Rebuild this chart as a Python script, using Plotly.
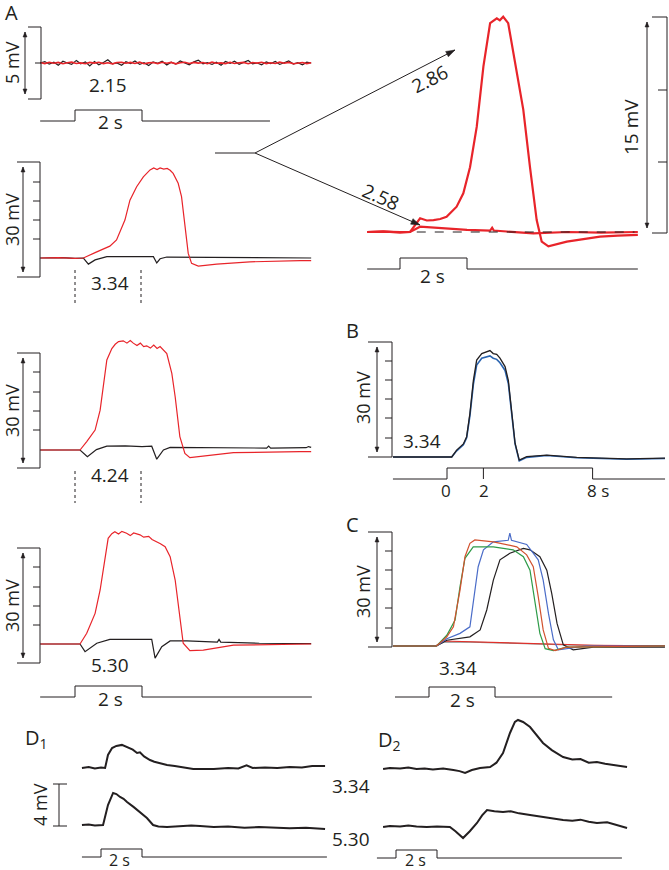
import math

import plotly.graph_objects as go

W, H = 669, 870
INK = "#231f20"
RED = "#e8242a"
FONT = "Open Sans"

# ---------------- data (time in s, voltage in mV) ----------------
# A, 2.15 (sub-threshold, 5 mV scale)
a1_t = [-1.04, -0.9, -0.77, -0.63, -0.5, -0.36, -0.23, -0.1, 0.04, 0.17, 0.31, 0.44, 0.58, 0.71, 0.85, 0.98,
        1.12, 1.25, 1.39, 1.52, 1.66, 1.79, 1.93, 2.06, 2.2, 2.33, 2.47, 2.6, 2.74, 2.87, 3.01, 3.14, 3.28,
        3.41, 3.55, 3.68, 3.82, 3.95, 4.09, 4.22, 4.36, 4.49, 4.63, 4.76, 4.9, 5.03, 5.17, 5.3, 5.44, 5.57,
        5.71, 5.84, 5.98, 6.11, 6.25, 6.38, 6.52, 6.65, 6.79, 6.92, 7.05]
a1_black = [0.0, 0.1, -0.08, 0.05, -0.15, 0.12, 0.0, -0.1, 0.18, -0.05,
            0.08, -0.2, 0.1, -0.12, 0.04, 0.22, -0.06, 0.0, -0.16, 0.09,
            -0.04, 0.14, -0.1, 0.02, -0.18, 0.07, -0.02, 0.12, -0.14, 0.05,
            -0.08, 0.15, 0.0, -0.12, 0.08, 0.2, -0.05, 0.03, -0.1, 0.06,
            -0.15, 0.1, -0.03, 0.13, -0.09, 0.02, 0.17, -0.06, 0.0, -0.13,
            0.08, -0.04, 0.11, -0.1, 0.05, 0.14, -0.07, 0.02, -0.12, 0.06, 0.0]
a1_red = [0.03, -0.04, 0.05, -0.02, 0.04, -0.05, 0.02, 0.06, -0.03, 0.01,
          -0.05, 0.04, -0.01, 0.05, -0.04, 0.02, -0.06, 0.03, 0.05, -0.02,
          0.04, -0.03, 0.06, -0.05, 0.01, 0.03, -0.04, 0.05, -0.02, 0.04,
          -0.06, 0.02, 0.05, -0.03, 0.04, -0.01, 0.03, -0.05, 0.06, -0.02,
          0.01, -0.04, 0.05, -0.03, 0.02, 0.04, -0.05, 0.03, -0.01, 0.05,
          -0.04, 0.02, -0.03, 0.06, -0.02, 0.04, -0.05, 0.01, 0.03, -0.04, 0.02]

# A, 3.34
a2_red_t = [-1.04, -0.5, 0.0, 0.25, 0.65, 1.04, 1.24, 1.49, 1.64, 1.84, 2.04, 2.24, 2.35, 2.45, 2.54, 2.65,
            2.75, 2.84, 2.93, 3.08, 3.18, 3.28, 3.38, 3.48, 3.68, 4.23, 5.22, 6.72, 7.05]
a2_red_v = [0.0, 0.1, -0.1, 0.0, 1.6, 3.1, 4.7, 9.9, 15.1, 18.6, 21.2, 23.0, 23.5, 23.1, 23.5, 23.2,
            23.4, 22.9, 22.1, 19.5, 16.0, 8.2, 1.2, -1.4, -2.1, -1.6, -1.0, -0.7, -0.7]
a2_blk_t = [-1.04, -0.4, 0.0, 0.25, 0.4, 0.6, 0.95, 1.5, 2.0, 2.34, 2.44, 2.54, 2.74, 3.5, 4.5, 5.5, 7.05]
a2_blk_v = [0.0, 0.1, -0.1, 0.0, -1.6, -0.5, 0.35, 0.4, 0.3, 0.35, -1.3, -0.2, 0.25, 0.2, 0.1, 0.05, 0.0]

# A, 4.24
a3_red_t = [-1.04, 0.15, 0.35, 0.6, 0.75, 0.85, 0.95, 1.1, 1.2, 1.3, 1.44, 1.55, 1.65, 1.74, 1.85, 1.95,
            2.05, 2.14, 2.25, 2.35, 2.45, 2.54, 2.64, 2.74, 2.89, 2.99, 3.13, 3.28, 3.43, 3.93, 4.73, 6.72, 7.05]
a3_red_v = [0.0, 0.0, 2.2, 5.2, 10.4, 17.4, 23.5, 26.5, 27.6, 28.3, 28.5, 27.9, 28.6, 27.9, 27.3, 27.9,
            27.0, 27.2, 26.6, 27.4, 26.5, 27.0, 26.0, 25.2, 20.0, 13.9, 3.5, -0.9, -2.0, -1.5, -0.7, -0.4, -0.4]
a3_blk_t = [-1.04, 0.15, 0.37, 0.64, 0.95, 1.5, 2.0, 2.29, 2.44, 2.64, 2.84, 4.0, 5.72, 5.78, 5.84, 6.9, 6.97, 7.05]
a3_blk_v = [0.0, 0.0, -1.75, 0.1, 1.0, 1.1, 0.9, 1.0, -2.4, 0.0, 0.7, 0.6, 0.5, 1.0, 0.5, 0.6, 0.9, 0.7]

# A, 5.30
a4_red_t = [-1.04, 0.15, 0.35, 0.6, 0.75, 0.9, 0.99, 1.1, 1.19, 1.3, 1.4, 1.54, 1.65, 1.75, 1.94, 2.05,
            2.2, 2.3, 2.44, 2.55, 2.69, 2.84, 2.99, 3.13, 3.23, 3.43, 3.83, 4.73, 6.72, 7.05]
a4_red_v = [0.0, 0.0, 2.8, 8.0, 14.1, 22.8, 27.6, 28.8, 29.3, 28.7, 29.4, 28.9, 28.3, 29.0, 28.5, 27.9,
            28.1, 27.3, 26.7, 26.2, 25.4, 22.8, 16.7, 6.3, 0.2, -1.75, -1.6, -0.3, 0.0, 0.0]
a4_blk_t = [-1.04, 0.15, 0.3, 0.65, 1.04, 2.29, 2.39, 2.59, 2.84, 3.34, 4.25, 4.3, 4.35, 5.5, 7.05]
a4_blk_v = [0.0, 0.0, -2.0, 0.2, 1.2, 1.2, -3.7, -0.7, 0.8, 0.8, 0.5, 1.2, 0.5, 0.2, 0.1]

# A, enlarged 2.86 / 2.58 (15 mV scale)
a_286_t = [-0.98, -0.5, 0.0, 0.3, 0.6, 0.8, 1.0, 1.2, 1.39, 1.69, 1.89, 2.09, 2.29, 2.49, 2.69, 2.79,
           2.89, 2.98, 3.08, 3.23, 3.43, 3.68, 3.88, 4.08, 4.23, 4.43, 4.98, 5.5, 5.97, 6.5, 7.1]
a_286_v = [0.0, 0.05, -0.05, 0.0, 0.95, 0.8, 0.83, 0.9, 1.06, 1.76, 2.69, 4.5, 7.3, 11.5, 14.5, 14.7,
           14.84, 14.7, 14.95, 14.5, 11.9, 8.5, 4.5, 0.83, -0.67, -1.0, -0.67, -0.5, -0.32, -0.25, -0.2]
a_258_t = [-0.98, -0.5, 0.0, 0.3, 0.6, 1.0, 1.49, 2.0, 2.69, 2.75, 2.8, 3.98, 5.0, 6.0, 7.1]
a_258_v = [0.0, 0.03, 0.0, 0.0, 0.37, 0.3, 0.25, 0.15, 0.1, 0.3, 0.1, -0.1, 0.0, -0.05, 0.0]

# B, 3.34 repeated (8 s stimulus)
b_t = [-2.97, 0.26, 0.53, 0.9, 1.08, 1.26, 1.45, 1.63, 1.91, 2.18, 2.36, 2.54, 2.73, 2.91, 3.19, 3.37,
       3.55, 3.74, 3.97, 4.38, 5.48, 7.13, 9.87, 11.98]
b_black = [0.0, 0.0, 1.8, 3.4, 5.3, 11.4, 20.0, 25.3, 27.0, 27.5, 27.8, 27.0, 26.8, 25.8, 23.6, 20.0,
           11.4, 3.6, -0.8, 0.1, 0.5, -0.1, -0.5, -0.3]
b_blue = [0.0, 0.0, 1.6, 3.2, 5.0, 10.8, 19.0, 24.0, 25.8, 26.2, 26.4, 25.8, 25.5, 24.6, 22.6, 19.2,
          11.0, 3.4, -1.0, -0.1, 0.4, -0.2, -0.6, -0.4]

# C, 3.34 series
c_orange_t = [-1.09, 0.23, 0.54, 0.74, 0.94, 1.09, 1.24, 1.39, 1.95, 2.66, 2.96, 3.16, 3.31, 3.46, 3.62, 3.82, 4.17, 7.15]
c_orange_v = [0.0, 0.0, 2.4, 5.0, 14.6, 23.3, 26.8, 27.7, 27.2, 25.9, 23.8, 20.7, 12.9, 4.2, -0.6, -1.2, -0.3, 0.0]
c_green_t = [-1.09, 0.23, 0.54, 0.79, 0.94, 1.09, 1.34, 1.95, 2.55, 2.86, 3.06, 3.21, 3.36, 3.52, 3.77, 4.17, 7.15]
c_green_v = [0.0, 0.0, 2.8, 6.8, 15.5, 22.9, 25.9, 25.9, 25.1, 23.3, 19.8, 11.1, 3.3, -0.7, -1.2, -0.3, 0.0]
c_blue_t = [-1.09, 0.23, 0.54, 0.94, 1.24, 1.39, 1.49, 1.65, 1.95, 2.4, 2.45, 2.5, 2.96, 3.31, 3.46, 3.62,
            3.77, 3.92, 4.17, 4.75, 7.15]
c_blue_v = [0.0, 0.0, 1.9, 3.3, 5.0, 13.7, 20.7, 25.1, 27.2, 27.6, 29.5, 27.6, 26.5, 22.5, 17.2, 8.5,
            1.6, -1.0, -0.7, 0.0, 0.0]
c_black_t = [-1.09, 0.23, 0.54, 1.24, 1.55, 1.75, 1.95, 2.15, 2.45, 2.86, 3.06, 3.36, 3.57, 3.72, 3.88,
             4.07, 4.37, 4.98, 7.15]
c_black_v = [0.0, 0.0, 1.5, 2.4, 4.2, 9.4, 17.2, 22.5, 24.2, 25.5, 25.1, 23.3, 19.8, 13.7, 5.9,
             0.3, -1.0, -0.3, -0.3]
c_red_t = [-1.09, 0.2, 0.43, 0.8, 1.3, 1.95, 2.5, 3.0, 3.5, 4.2, 5.0, 6.0, 7.15]
c_red_v = [0.0, 0.0, 1.3, 1.2, 1.1, 1.0, 0.8, 0.6, 0.5, 0.3, 0.2, 0.1, 0.1]
c_gray_t = [-1.09, 0.2, 0.45, 1.0, 1.8, 2.6, 3.4, 4.5, 7.15]
c_gray_v = [0.0, 0.0, 1.0, 1.1, 0.9, 0.7, 0.4, 0.2, 0.0]

# D1 (3.34 top, 5.30 bottom)
d1_top_t = [-0.93, -0.6, -0.3, 0.0, 0.2, 0.34, 0.54, 0.75, 1.02, 1.2, 1.41, 1.55, 1.76, 1.9, 2.1, 2.39,
            2.6, 2.8, 3.22, 3.6, 4.0, 4.5, 4.83, 5.5, 6.2, 6.7, 7.1, 7.4, 8.0, 8.6, 9.2, 9.8, 10.3, 10.93]
d1_top_v = [0.0, 0.1, -0.05, 0.05, 0.0, 1.24, 1.9, 2.1, 2.2, 2.05, 1.9, 1.75, 1.43, 1.5, 1.1, 0.76,
            0.6, 0.5, 0.29, 0.2, 0.05, -0.1, -0.1, -0.1, 0.0, -0.05, 0.25, 0.0, 0.05, 0.0, 0.1, 0.05, 0.2, 0.2]
d1_bot_t = [-0.93, -0.6, -0.3, 0.1, 0.34, 0.59, 0.75, 0.93, 1.1, 1.27, 1.6, 1.9, 2.1, 2.24, 2.54, 2.8,
            3.22, 3.8, 4.4, 4.83, 5.5, 6.2, 7.0, 7.7, 8.4, 9.2, 10.0, 10.93]
d1_bot_v = [0.0, 0.05, -0.05, 0.0, 1.9, 3.05, 2.95, 2.67, 2.5, 2.19, 1.7, 1.24, 0.9, 0.67, 0.0, -0.15,
            -0.19, -0.1, -0.05, -0.1, -0.2, -0.15, -0.25, -0.2, -0.25, -0.3, -0.25, -0.38]

# D2 (3.34 top, 5.30 bottom)
d2_top_t = [-0.63, -0.3, 0.2, 0.6, 1.0, 1.4, 1.8, 2.3, 2.8, 3.1, 3.37, 3.7, 4.1, 4.59, 4.9, 5.22, 5.56,
            5.8, 5.95, 6.2, 6.54, 6.85, 7.17, 7.6, 8.15, 8.6, 9.0, 9.4, 9.8, 10.2, 10.6, 11.27]
d2_top_v = [0.0, 0.1, 0.05, 0.15, 0.0, 0.05, -0.05, 0.05, -0.1, -0.2, -0.38, -0.1, 0.1, 0.19, 0.6, 1.52, 3.43,
            4.48, 4.67, 4.48, 4.0, 3.2, 2.48, 1.8, 1.14, 0.9, 0.95, 0.6, 0.67, 0.5, 0.4, 0.19]
d2_bot_t = [-0.63, -0.3, 0.2, 0.6, 1.0, 1.5, 2.0, 2.63, 2.9, 3.27, 3.6, 3.95, 4.2, 4.44, 4.8, 5.22, 5.6,
            6.0, 6.54, 7.0, 7.5, 8.15, 8.6, 9.0, 9.4, 9.8, 10.3, 10.8, 11.27]
d2_bot_v = [0.0, 0.1, 0.05, 0.15, 0.05, 0.0, 0.05, 0.0, -0.4, -1.05, -0.4, 0.38, 1.1, 1.62, 1.5, 1.43, 1.5,
            1.3, 1.14, 1.0, 0.9, 0.67, 0.6, 0.7, 0.5, 0.38, 0.45, 0.2, -0.1]

# stimulus steps (start, onset, offset, end) and levels
stim_level = [0, 1, 0, 0]
a1_stim_t = [-1.04, 0, 2, 5.82]
a4_stim_t = [-1.04, 0, 2, 7.07]
abig_stim_t = [-0.98, 0, 2, 7.1]
b_stim_t = [-2.97, 0, 8, 11.98]
b_tick_t = [2, 2]
b_tick_level = [0, 1]
c_stim_t = [-1.03, 0, 2, 5.55]
d_stim_t = [-0.93, 0, 2, 11.02]

fig = go.Figure()
_count = [0]


def new_axes(ox, oy, sx, sy, left, top, right, bottom):
    """Axes whose data origin sits at pixel (ox, oy), sx px/s and sy px/mV."""
    _count[0] += 1
    s = "" if _count[0] == 1 else str(_count[0])
    fig.update_layout({
        "xaxis" + s: dict(domain=[left / W, right / W], range=[(left - ox) / sx, (right - ox) / sx],
                          visible=False, anchor="y" + s, fixedrange=True),
        "yaxis" + s: dict(domain=[1 - bottom / H, 1 - top / H], range=[(oy - bottom) / sy, (oy - top) / sy],
                          visible=False, anchor="x" + s, fixedrange=True),
    })
    return "x" + s, "y" + s


def trace(ax, t, v, color=INK, width=1.2, shape="linear"):
    fig.add_trace(go.Scatter(x=t, y=v, mode="lines", xaxis=ax[0], yaxis=ax[1],
                             line=dict(color=color, width=width, shape=shape),
                             showlegend=False, hoverinfo="skip"))


def stim(ox, sx, base, raised, left, right, t, tick=False):
    ax = new_axes(ox, base, sx, base - raised, left, raised - 4, right, base + 4)
    trace(ax, t, stim_level, INK, 1, "hv")
    if tick:
        trace(ax, b_tick_t, b_tick_level, INK, 1)


def seg(x0, y0, x1, y1, dash=None, w=1):
    fig.add_shape(type="line", xref="paper", yref="paper", x0=x0 / W, y0=1 - y0 / H,
                  x1=x1 / W, y1=1 - y1 / H, line=dict(color=INK, width=w, dash=dash))


def label(x, y, text, size=19, angle=0):
    fig.add_annotation(xref="paper", yref="paper", x=x / W, y=1 - y / H, text=text, showarrow=False,
                       font=dict(family=FONT, size=size, color=INK), textangle=angle,
                       xanchor="center", yanchor="middle", borderpad=0)


def head(x, y, fx, fy, length=6, half=2.2):
    """Filled arrow head with its tip at (x, y), pointing away from (fx, fy)."""
    d = math.hypot(x - fx, y - fy)
    ux, uy = (x - fx) / d, (y - fy) / d
    bx, by = x - ux * length, y - uy * length
    pts = [(x, y), (bx - uy * half, by + ux * half), (bx + uy * half, by - ux * half)]
    path = "M " + " L ".join(f"{a / W:.5f},{1 - b / H:.5f}" for a, b in pts) + " Z"
    fig.add_shape(type="path", xref="paper", yref="paper", path=path, fillcolor=INK,
                  line=dict(color=INK, width=0.5))


def arrow(x0, y0, x1, y1, both=False, length=6, half=2.2):
    seg(x0, y0, x1, y1)
    head(x1, y1, x0, y0, length, half)
    if both:
        head(x0, y0, x1, y1, length, half)


def bracket(xv, top, bottom, xl, ticks, xa, text, ty, tx=12, tick_x=None):
    seg(xl, top, xv, top)
    seg(xv, top, xv, bottom)
    seg(xl, bottom, xv, bottom)
    for y in ticks:
        seg(tick_x, y, xv, y)
    arrow(xa, bottom - 5, xa, top + 5, both=True, length=5, half=2)
    label(tx, ty, text, size=18, angle=-90)


# ---------------- panel A ----------------
ax = new_axes(75, 63, 33.5, 14.4, 40, 20, 315, 105)
trace(ax, a1_t, a1_black, INK, 1.2)
trace(ax, a1_t, a1_red, RED, 1.6)
stim(75, 33.5, 121, 110, 38, 300, a1_stim_t)

for oy, top, rt, rv, bt, bv in [
    (258, 150, a2_red_t, a2_red_v, a2_blk_t, a2_blk_v),
    (450, 330, a3_red_t, a3_red_v, a3_blk_t, a3_blk_v),
    (644, 520, a4_red_t, a4_red_v, a4_blk_t, a4_blk_v),
]:
    ax = new_axes(75, oy, 33.5, 3.83, 40, top, 315, oy + 25)
    trace(ax, bt, bv, INK, 1.2)
    trace(ax, rt, rv, RED, 1.2)
stim(75, 33.5, 697, 686, 38, 315, a4_stim_t)

ax = new_axes(400, 232, 33.5, 14.4, 360, 8, 645, 250)
fig.add_shape(type="line", xref=ax[0], yref=ax[1], x0=0.5, x1=7.0, y0=0, y1=0,
              line=dict(color=INK, width=1, dash="dash"))
trace(ax, a_258_t, a_258_v, RED, 2.2)
trace(ax, a_286_t, a_286_v, RED, 2.2)
stim(400, 33.5, 269, 258, 360, 645, abig_stim_t)

# ---------------- panel B ----------------
ax = new_axes(447, 457, 18.2, 3.83, 390, 330, 668, 470)
trace(ax, b_t, b_blue, "#2a64b0", 1.6)
trace(ax, b_t, b_black, INK, 1.3)
stim(447, 18.2, 479, 468, 390, 668, b_stim_t, tick=True)

# ---------------- panel C ----------------
ax = new_axes(429, 646, 33, 3.83, 390, 520, 668, 660)
trace(ax, c_gray_t, c_gray_v, "#8c8c8c", 1.2)
trace(ax, c_red_t, c_red_v, "#e0302a", 1.2)
trace(ax, c_black_t, c_black_v, INK, 1.2)
trace(ax, c_blue_t, c_blue_v, "#4a6cc8", 1.2)
trace(ax, c_green_t, c_green_v, "#2e9b48", 1.2)
trace(ax, c_orange_t, c_orange_v, "#d2522f", 1.2)
stim(429, 33, 697, 687, 390, 668, c_stim_t)

# ---------------- panel D ----------------
ax = new_axes(101, 768, 20.5, 10.5, 75, 730, 335, 790)
trace(ax, d1_top_t, d1_top_v, INK, 2)
ax = new_axes(101, 825, 20.5, 10.5, 75, 780, 335, 840)
trace(ax, d1_bot_t, d1_bot_v, INK, 2)
stim(101, 20.5, 857, 849, 75, 335, d_stim_t)

ax = new_axes(396, 769, 20.5, 10.5, 375, 705, 640, 785)
trace(ax, d2_top_t, d2_top_v, INK, 2)
ax = new_axes(396, 827, 20.5, 10.5, 375, 795, 640, 845)
trace(ax, d2_bot_t, d2_bot_v, INK, 2)
stim(396, 20.5, 858, 850, 375, 640, d_stim_t)

# ---------------- scale bars, arrows, labels ----------------
label(11, 12, "A", 20)
bracket(41, 27, 99, 28, [63], 25, "5 mV", 63, tick_x=35)
label(108, 85, "2.15")
label(110, 122, "2 s")

bracket(40, 162, 277, 17, [182, 201, 220, 239], 23, "30 mV", 220, tick_x=33)
seg(75, 270, 75, 303, dash="dot")
seg(141, 270, 141, 303, dash="dot")
label(110, 283, "3.34")

bracket(40, 353, 468, 17, [372, 392, 411, 430], 23, "30 mV", 411, tick_x=33)
seg(75, 471, 75, 503, dash="dot")
seg(141, 471, 141, 503, dash="dot")
label(110, 475, "4.24")

bracket(40, 548, 663, 17, [567, 587, 606, 625], 23, "30 mV", 606, tick_x=33)
label(110, 665, "5.30")
label(110, 699, "2 s")

# enlarged inset of A
seg(215, 153, 255, 153)
arrow(255, 153, 455, 50, length=9, half=3)
arrow(255, 153, 420, 225, length=9, half=3)
label(430, 79, "2.86", angle=-27)
label(381, 197, "2.58", angle=24)
seg(652, 17, 667, 17)
seg(667, 17, 667, 233)
seg(652, 233, 667, 233)
seg(658, 90, 667, 90)
seg(658, 162, 667, 162)
arrow(647, 228, 647, 22, both=True, length=5, half=2)
label(631, 127, "15 mV", angle=-90)
label(432, 276, "2 s")

# B
label(352, 330, "B", 20)
bracket(392, 342, 457, 368, [361, 380, 399, 418, 438], 377, "30 mV", 398, tx=363, tick_x=385)
label(422, 441, "3.34")
label(446, 490, "0", 17)
label(484, 490, "2", 17)
label(598, 490, "8 s", 17)

# C
label(352, 524, "C", 20)
bracket(392, 532, 647, 368, [551, 570, 589, 608, 628], 377, "30 mV", 592, tx=363, tick_x=385)
label(458, 668, "3.34")
label(462, 700, "2 s")

# D
label(36, 738, "D<sub>1</sub>", 20)
label(389, 740, "D<sub>2</sub>", 20)
seg(53, 784, 67, 784)
seg(59, 784, 59, 826)
seg(53, 826, 67, 826)
label(40, 805, "4 mV", size=18, angle=-90)
label(351, 786, "3.34")
label(351, 839, "5.30")
label(119, 860, "2 s", 16)
label(415, 860, "2 s", 16)

fig.update_layout(
    width=W, height=H,
    margin=dict(l=0, r=0, t=0, b=0),
    paper_bgcolor="white",
    plot_bgcolor="rgba(0,0,0,0)",
    font=dict(family=FONT, color=INK),
    showlegend=False,
)

# the page's default 8 px body margin would push the figure off the window
fig.write_html("out.html", config={"displayModeBar": False},
               post_script="document.body.style.margin = '0px';")
